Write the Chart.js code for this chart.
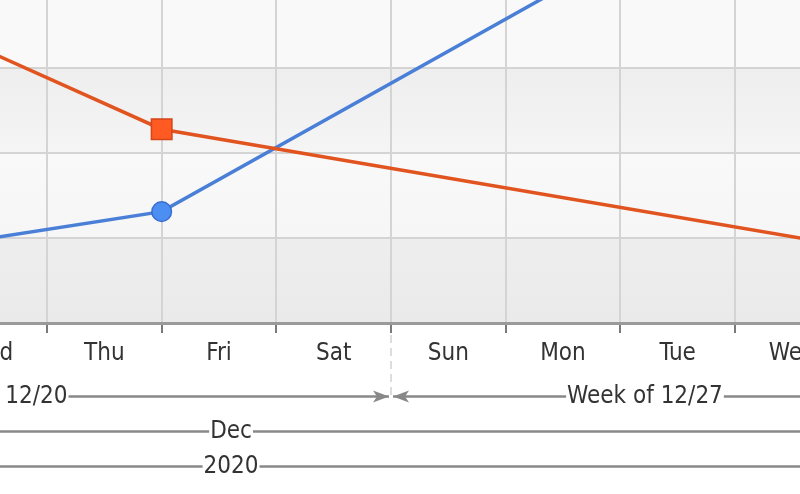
<!DOCTYPE html>
<html>
<head>
<meta charset="utf-8">
<script src="https://cdn.jsdelivr.net/npm/chart.js@4"></script>
<style>
  html, body { margin: 0; padding: 0; background: #fff; }
</style>
</head>
<body>
<canvas id="grafico" width="800" height="494"></canvas>
<script>
// eje x en dias contados desde el domingo 12/20/2020
const dias = ['Wed', 'Thu', 'Fri', 'Sat', 'Sun', 'Mon', 'Tue', 'Wed'];
const centrosDias = [3.5, 4.5, 5.5, 6.5, 7.5, 8.5, 9.5, 10.5];

const semanas = ['Week of 12/20', 'Week of 12/27'];
const semanaIni = [0, 7];
const semanaFin = [7, 14];

const meses = ['Dec'];
const mesIni = [-19];
const mesFin = [12];

const anios = ['2020'];
const anioIni = [-354];
const anioFin = [12];

// rango de los datos y ventana visible (zoom)
const rangoDatos = [-0.22, 11.43];
const vista = [3.59, 10.567];

// series
const serieAX = [3, 5, 11];
const serieAY = [34.9, 22.8, 9.0];
const serieBX = [3, 5, 9];
const serieBY = [8.9, 13.1, 43.3];

const yMin = 0, yMax = 38;
const yTicks = [10, 20, 30];

const fuente = { family: "'DejaVu Sans Condensed', 'DejaVu Sans', sans-serif", size: 24 };
const padTick = 4;

function centro(ini, fin) {
    return (Math.max(ini, rangoDatos[0]) + Math.min(fin, rangoDatos[1])) / 2;
}

// --- fondo a bandas y corchetes de semanas/meses/años ---
const fondoYCorchetes = {
    id: 'fondoYCorchetes',
    beforeDraw(chart) {
        const { ctx, chartArea: a, scales } = chart;
        const y = scales.y, x = scales.x;
        const bordes = [yMin, ...yTicks, yMax];
        const colores = [['#eeeeee', '#eaeaea'], ['#f9f9f9', '#f6f6f6'], ['#eeeeee', '#f5f5f5'], ['#f9f9f9', '#f9f9f9']];
        ctx.save();
        for (let i = 0; i < bordes.length - 1; i++) {
            const y0 = y.getPixelForValue(bordes[i + 1]);
            const y1 = y.getPixelForValue(bordes[i]);
            const g = ctx.createLinearGradient(0, y0, 0, y1);
            g.addColorStop(0, colores[i][0]);
            g.addColorStop(1, colores[i][1]);
            ctx.fillStyle = g;
            ctx.fillRect(a.left, y0, a.right - a.left, y1 - y0);
        }

        const filas = [
            { eje: 'xSem', ini: semanaIni, fin: semanaFin, guiones: true },
            { eje: 'xMes', ini: mesIni, fin: mesFin },
            { eje: 'xAnio', ini: anioIni, fin: anioFin }
        ];
        filas.forEach(f => {
            const s = scales[f.eje];
            const yy = s.top + padTick + fuente.size * 1.2 / 2;
            f.ini.forEach((v, i) => {
                const flechaIni = v >= rangoDatos[0];
                const flechaFin = f.fin[i] <= rangoDatos[1];
                let pa = x.getPixelForValue(Math.max(v, rangoDatos[0]));
                let pb = x.getPixelForValue(Math.min(f.fin[i], rangoDatos[1]));
                if (f.guiones && flechaIni) {
                    const px = Math.round(x.getPixelForValue(v));
                    ctx.strokeStyle = '#dddddd';
                    ctx.lineWidth = 2;
                    ctx.setLineDash([8, 5]);
                    ctx.beginPath();
                    ctx.moveTo(px, a.bottom + 12);
                    ctx.lineTo(px, yy);
                    ctx.stroke();
                    ctx.setLineDash([]);
                }
                if (flechaIni) pa += 2;
                if (flechaFin) pb -= 2;
                ctx.strokeStyle = '#888';
                ctx.fillStyle = '#888';
                ctx.lineWidth = 2.5;
                ctx.beginPath();
                ctx.moveTo(pa, yy);
                ctx.lineTo(pb, yy);
                ctx.stroke();
                if (flechaIni) {
                    ctx.beginPath();
                    ctx.moveTo(pa, yy);
                    ctx.lineTo(pa + 16, yy - 6);
                    ctx.lineTo(pa + 12, yy);
                    ctx.lineTo(pa + 16, yy + 6);
                    ctx.closePath();
                    ctx.fill();
                }
                if (flechaFin) {
                    ctx.beginPath();
                    ctx.moveTo(pb, yy);
                    ctx.lineTo(pb - 16, yy - 6);
                    ctx.lineTo(pb - 12, yy);
                    ctx.lineTo(pb - 16, yy + 6);
                    ctx.closePath();
                    ctx.fill();
                }
            });
        });
        ctx.restore();
    }
};

function ejeFila(etiquetas, ini, fin, alto) {
    return {
        type: 'linear',
        position: 'bottom',
        min: vista[0],
        max: vista[1],
        bounds: 'data',
        grid: { display: false, drawTicks: false },
        border: { display: false },
        afterBuildTicks: s => { s.ticks = etiquetas.map((_, i) => ({ value: centro(ini[i], fin[i]) })); },
        afterFit: s => { s.height = alto; s.paddingLeft = 0; s.paddingRight = 0; },
        ticks: {
            autoSkip: false,
            maxRotation: 0,
            padding: padTick,
            color: '#333',
            font: fuente,
            callback: (v, i) => etiquetas[i],
            showLabelBackdrop: true,
            backdropColor: '#fff',
            backdropPadding: { left: 1, right: 1, top: 0, bottom: 0 }
        }
    };
}

new Chart(document.getElementById('grafico'), {
    type: 'line',
    data: {
        datasets: [{
            data: serieAX.map((v, i) => ({ x: v, y: serieAY[i] })),
            borderColor: '#e1541f',
            borderWidth: 3.5,
            pointStyle: 'rect',
            pointRadius: 14.5,
            pointBackgroundColor: '#ff5a22',
            pointBorderColor: '#d4451a',
            pointBorderWidth: 1.5,
            tension: 0
        }, {
            data: serieBX.map((v, i) => ({ x: v, y: serieBY[i] })),
            borderColor: '#4a7fd8',
            borderWidth: 3.5,
            pointStyle: 'circle',
            pointRadius: 9.8,
            pointBackgroundColor: '#4d8ef2',
            pointBorderColor: '#3b6fcf',
            pointBorderWidth: 1.5,
            tension: 0
        }]
    },
    options: {
        responsive: false,
        animation: false,
        layout: { padding: 0, autoPadding: false },
        plugins: { legend: { display: false }, tooltip: { enabled: false } },
        scales: {
            x: {
                type: 'linear',
                position: 'bottom',
                min: vista[0],
                max: vista[1],
                bounds: 'data',
                afterBuildTicks: s => { s.ticks = centrosDias.map(v => ({ value: v })); },
                afterFit: s => { s.height = 55; s.paddingLeft = 0; s.paddingRight = 0; },
                grid: { offset: true, color: '#d4d4d4', lineWidth: 2, tickLength: 10, tickColor: '#7a7a7a', tickWidth: 2 },
                border: { color: '#9a9a9a', width: 3 },
                ticks: {
                    autoSkip: false,
                    maxRotation: 0,
                    padding: 6,
                    color: '#333',
                    font: fuente,
                    callback: (v, i) => dias[i]
                }
            },
            xSem: ejeFila(semanas, semanaIni, semanaFin, 35),
            xMes: ejeFila(meses, mesIni, mesFin, 35),
            xAnio: ejeFila(anios, anioIni, anioFin, 46),
            y: {
                min: yMin,
                max: yMax,
                afterBuildTicks: s => { s.ticks = yTicks.map(v => ({ value: v })); },
                afterFit: s => { s.width = 0; s.paddingTop = 0; s.paddingBottom = 0; },
                grid: { color: '#d4d4d4', lineWidth: 2, drawTicks: false },
                border: { display: false },
                ticks: { display: false }
            }
        }
    },
    plugins: [fondoYCorchetes]
});
</script>
</body>
</html>
